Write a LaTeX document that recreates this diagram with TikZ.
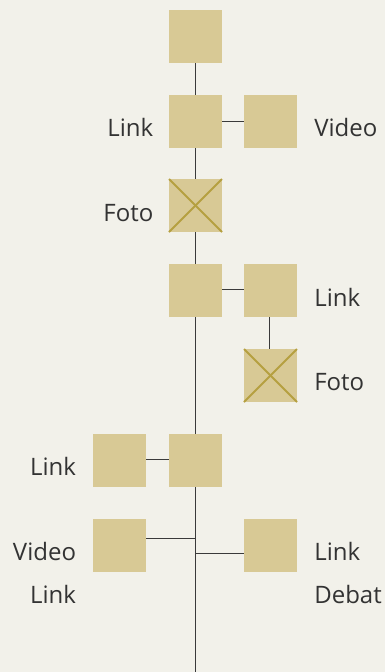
\documentclass[tikz,border=0pt]{standalone}
\usepackage{fontspec}
\setmainfont{Open Sans}
\definecolor{paper}{HTML}{F2F1EA}
\definecolor{boxfill}{HTML}{D8C995}
\definecolor{crossline}{HTML}{B5A040}
\definecolor{wire}{HTML}{3A3A3A}
\begin{document}
\begin{tikzpicture}[x=1pt,y=-1pt,
  item/.style={rectangle,fill=boxfill,minimum size=53pt,inner sep=0pt,outer sep=0pt},
  tag/.style={inner sep=0pt,outer sep=0pt,text=black!80,font=\fontsize{24}{27}\selectfont},
  wirestyle/.style={draw=wire,line width=1.2pt},
  crossstyle/.style={draw=crossline,line width=2pt}]
  \fill[paper] (0,0) rectangle (385,672);
  \useasboundingbox (0,0) rectangle (385,672);

  % boxes
  \node[item] (top)   at (195.5,36.5) {};
  \node[item] (hub1)  at (195.5,121.5) {};
  \node[item] (vid1)  at (270.5,121.5) {};
  \node[item] (foto1) at (195.5,205.5) {};
  \node[item] (hub2)  at (195.5,290.5) {};
  \node[item] (lnk2)  at (270.5,290.5) {};
  \node[item] (foto2) at (270.5,375.5) {};
  \node[item] (hub3)  at (195.5,460.5) {};
  \node[item] (lnk3)  at (119.5,460.5) {};
  \node[item] (vid4)  at (119.5,545.5) {};
  \node[item] (lnk4)  at (270.5,545.5) {};

  % photo crosses
  \foreach \b in {foto1,foto2}{
    \draw[crossstyle] (\b.north west) -- (\b.south east);
    \draw[crossstyle] (\b.south west) -- (\b.north east);
  }

  % main spine and branches
  \coordinate (tail) at (195.5,672);
  \coordinate (j1) at (195.5,538.3);
  \coordinate (j2) at (195.5,553.3);
  \draw[wirestyle] (top) -- (hub1);
  \draw[wirestyle] (hub1) -- (foto1);
  \draw[wirestyle] (foto1) -- (hub2);
  \draw[wirestyle] (hub2) -- (hub3);
  \draw[wirestyle] (hub3) -- (tail);
  \draw[wirestyle] (hub1) -- (vid1);
  \draw[wirestyle] (hub2.east |- 0,289.5) -- (lnk2.west |- 0,289.5);
  \draw[wirestyle] (lnk2.south -| 269.5,0) -- (foto2.north -| 269.5,0);
  \draw[wirestyle] (hub3.west |- 0,459.5) -- (lnk3.east |- 0,459.5);
  \draw[wirestyle] (j1) -- (j1 -| vid4.east);
  \draw[wirestyle] (j2) -- (j2 -| lnk4.west);

  % labels
  \node[tag,anchor=base east] (t1) at (153.3,136.7) {Link};
  \node[tag,anchor=base west] (t2) at (314.3,136.7) {Video};
  \node[tag,anchor=base east] (t3) at (153.3,221.7) {Foto};
  \node[tag,anchor=base west] (t4) at (314.3,306.7) {Link};
  \node[tag,anchor=base west] (t5) at (314.3,390.7) {Foto};
  \node[tag,anchor=base east] (t6) at (76.0,475.0) {Link};
  \node[tag,anchor=base east] (t7) at (76.0,560.7) {Video};
  \node[tag,anchor=base east] (t8) at (76.0,603.3) {Link};
  \node[tag,anchor=base west] (t9) at (314.3,560.7) {Link};
  \node[tag,anchor=base west] (t10) at (314.3,603.3) {Debat};
\end{tikzpicture}
\end{document}
